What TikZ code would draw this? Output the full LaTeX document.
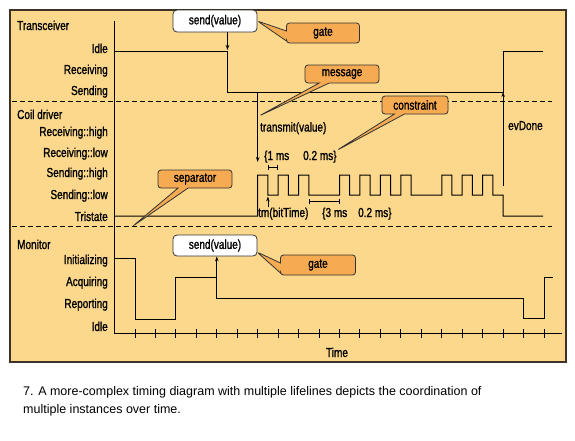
\documentclass[tikz,border=0pt]{standalone}
\usepackage{fontspec}
\setmainfont{Liberation Sans}
\newfontfamily\condfont[FakeStretch=0.77, FakeBold=1.2]{Liberation Sans}
\usepackage{tikz}
\usetikzlibrary{arrows.meta, shapes.callouts, positioning}
\definecolor{panel}{RGB}{252,216,140}
\definecolor{calloutfill}{RGB}{246,170,82}
\definecolor{frameline}{RGB}{60,50,40}
\tikzstyle{lbl} = [font=\condfont\fontsize{13}{15}\selectfont, inner sep=0pt]
\tikzstyle{levellbl} = [lbl, anchor=base east]
\tikzstyle{lifeline} = [lbl, anchor=base west]
\tikzstyle{wave} = [line width=1pt, black]
\tikzstyle{msg} = [line width=0.8pt, -{Stealth[length=5pt,width=3.5pt]}]
\tikzstyle{note} = [rectangle callout, lbl, draw=black!80, fill=calloutfill, line width=0.8pt, rounded corners=3pt, callout pointer width=10pt, minimum height=18pt]
\tikzstyle{event} = [lbl, draw=black!80, fill=white, line width=0.8pt, rounded corners=4pt, minimum width=84pt, minimum height=22pt]
\tikzstyle{durbar} = [line width=0.8pt, {Bar[width=5pt]}-{Bar[width=5pt]}]
\tikzstyle{separatorline} = [line width=0.8pt, dash pattern=on 5pt off 3pt]

\begin{document}
\begin{tikzpicture}[x=1pt, y=-1pt]
\useasboundingbox (0,0) rectangle (575,440);
\draw[frameline, line width=1.5pt, fill=panel] (10,10) rectangle (566,362);
\draw[separatorline] (12,101) -- (552,101);
\draw[separatorline] (12,226) -- (552,226);

\node[lifeline] (trx) at (17,30) {Transceiver};
\node[levellbl] (trxIdle) at (108,53) {Idle};
\node[levellbl] (trxRecv) at (108,74) {Receiving};
\node[levellbl] (trxSend) at (108,95) {Sending};
\node[lifeline] (coil) at (17,119) {Coil driver};
\node[levellbl] (coilRecvHigh) at (108,136) {Receiving::high};
\node[levellbl] (coilRecvLow) at (108,157) {Receiving::low};
\node[levellbl] (coilSendHigh) at (108,177) {Sending::high};
\node[levellbl] (coilSendLow) at (108,199) {Sending::low};
\node[levellbl] (coilTri) at (108,221) {Tristate};
\node[lifeline] (mon) at (17,249) {Monitor};
\node[levellbl] (monInit) at (108,264) {Initializing};
\node[levellbl] (monAcq) at (108,286) {Acquiring};
\node[levellbl] (monRep) at (108,308) {Reporting};
\node[levellbl] (monIdle) at (108,331) {Idle};

\draw[wave] (114,21) -- (114,333) -- (562,333);
\foreach \k in {0,...,20}
  \draw[wave] (135+20.45*\k,329) -- ++(0,9);
\node[lbl, anchor=base] (time) at (337,357) {Time};

\draw[wave] (114,51) -- (227.5,51) -- (227.5,92) -- (503.1,92) -- (503.1,51) -- (543,51);
\draw[wave] (114,216) -- (257.7,216)
  \foreach \k in {6,7,8,10,11,12,13,15,16,17} {
    -- (135+20.45*\k,195) -- (135+20.45*\k,175) -- (145.2+20.45*\k,175) -- (145.2+20.45*\k,195)
  }
  -- (503.1,195) -- (503.1,216) -- (543,216);
\draw[wave] (114,258) -- (135,258) -- (135,319) -- (175.9,319) -- (175.9,277) -- (216.8,277)
  -- (216.8,298) -- (523.6,298) -- (523.6,318) -- (544,318) -- (544,277) -- (553,277);

\node[event] (sendTx) at (215,21) {send(value)};
\coordinate (txDrop) at (227.5,50);
\draw[msg] (sendTx.south -| txDrop) -- (txDrop);
\coordinate (txOut) at (257.7,92);
\coordinate (coilIn) at (257.7,162);
\draw[msg] (txOut) -- (coilIn);
\node[lbl, anchor=base west] (transmit) at (260,131.5) {transmit(value)};
\coordinate (coilDone) at (503.1,186);
\coordinate (txDone) at (503.1,92);
\draw[msg] (coilDone) -- (txDone);
\node[lbl, anchor=base west] (evDone) at (508,130) {evDone};

\node[lbl, anchor=base west] (oneMs) at (264,160) {\{1 ms};
\node[lbl, anchor=base west] (fracA) at (303,160) {0.2 ms\}};
\coordinate (gapStart) at (267.9,167);
\coordinate (gapEnd) at (278.2,167);
\draw[durbar] (gapStart) -- (gapEnd);
\node[lbl, anchor=base west] (bitTime) at (258,217) {tm(bitTime)};
\coordinate (bitLow) at (267.9,196.5);
\draw[msg] (bitTime.north -| bitLow) -- (bitLow);
\node[lbl, anchor=base west] (threeMs) at (322,217) {\{3 ms};
\node[lbl, anchor=base west] (fracB) at (358,217) {0.2 ms\}};
\coordinate (pauseStart) at (308.8,201);
\coordinate (pauseEnd) at (339.5,201);
\draw[durbar] (pauseStart) -- (pauseEnd);

\node[event, minimum height=21pt] (sendMon) at (215,245.5) {send(value)};
\coordinate (monStep) at (216.8,298);
\draw[msg] (monStep) -- (sendMon.south -| monStep);

\coordinate (msgTip) at (259,116);
\coordinate (sepTip) at (133,226);
\coordinate (gateMonTip) at (257,252);
\node[note, minimum width=73pt, minimum height=20pt, callout absolute pointer={(sendTx.east)}] (gateTx) at (323,33) {gate};
\node[note, minimum width=74pt, callout absolute pointer={(msgTip)}] (message) at (342,74) {message};
\node[note, minimum width=66pt, callout absolute pointer={(fracA.north east)}] (constraint) at (415,105) {constraint};
\node[note, minimum width=74pt, callout absolute pointer={(sepTip)}] (separator) at (195,179) {separator};
\node[note, minimum width=75pt, minimum height=20pt, callout absolute pointer={(gateMonTip)}] (gateMon) at (318,265) {gate};

\node[font=\fontsize{12.5}{18}\selectfont, align=left, anchor=base west, inner sep=0pt] (caption) at (23,413.5)
  {7. A more-complex timing diagram with multiple lifelines depicts the coordination of\\multiple instances over time.};
\end{tikzpicture}
\end{document}
